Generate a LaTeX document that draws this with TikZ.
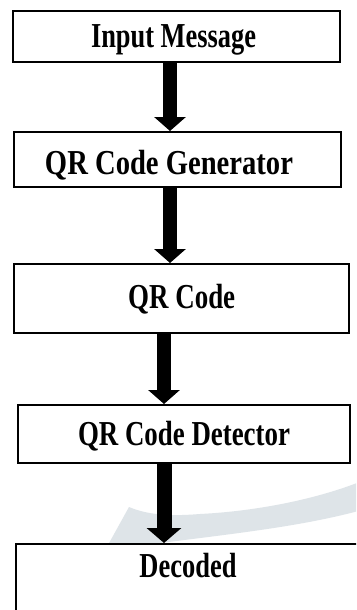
\documentclass[tikz,border=0pt]{standalone}
\usepackage{fontspec}
\setmainfont{Liberation Serif}
\usepackage{graphicx}
\usetikzlibrary{arrows.meta}
\newcommand{\sqz}[2]{\resizebox{#1}{\height}{#2}}
\definecolor{wmark}{RGB}{222,228,232}
\tikzset{
  box/.style={draw=black, line width=2pt, fill=white, rectangle, inner sep=0pt},
  lbl/.style={font=\fontsize{35}{40}\selectfont\bfseries, inner sep=0pt, anchor=base},
  bigarrow/.style={line width=14pt, -{Triangle[width=31pt,length=14pt]}}
}
\begin{document}
\begin{tikzpicture}[x=1pt,y=-1pt]
\useasboundingbox (0,0) rectangle (356,610);
\clip (0,0) rectangle (356,610);
\fill[white] (0,0) rectangle (356,610);
% faint watermark
\fill[wmark] (108,545) -- (129,507) .. controls (150,516) and (175,516) .. (200,514)
  .. controls (260,511) and (320,498) .. (362,481) -- (362,510)
  .. controls (300,527) and (230,534) .. (145,545) -- cycle;
% boxes
\node[box, minimum width=327pt, minimum height=51pt] (b1) at (176.5,36.5) {};
\node[box, minimum width=327pt, minimum height=55pt] (b2) at (177.5,159.5) {};
\node[box, minimum width=335pt, minimum height=69pt] (b3) at (181.5,298.5) {};
\node[box, minimum width=332pt, minimum height=58pt] (b4) at (184,434) {};
\node[box, minimum width=363pt, minimum height=95pt] (b5) at (197.5,591.5) {};
% labels
\node[lbl] (t1) at (173.5,48) {\sqz{165pt}{Input Message}};
\node[lbl] (t2) at (169,174) {\sqz{248pt}{QR Code Generator}};
\node[lbl] (t3) at (181.7,308) {\sqz{107pt}{QR Code}};
\node[lbl] (t4) at (184,445) {\sqz{212pt}{QR Code Detector}};
\node[lbl] (t5) at (188,577) {\sqz{97pt}{Decoded}};
% arrow axes
\coordinate (ax1) at (170,0);
\coordinate (ax2) at (170,0);
\coordinate (ax3) at (164,0);
\coordinate (ax4) at (164,0);
% arrows
\draw[bigarrow] (b1.south -| ax1) -- (b2.north -| ax1);
\draw[bigarrow] (b2.south -| ax2) -- (b3.north -| ax2);
\draw[bigarrow] (b3.south -| ax3) -- (b4.north -| ax3);
\draw[bigarrow, line width=15pt, -{Triangle[width=34pt,length=15pt]}] (b4.south -| ax4) -- (b5.north -| ax4);
\end{tikzpicture}
\end{document}
